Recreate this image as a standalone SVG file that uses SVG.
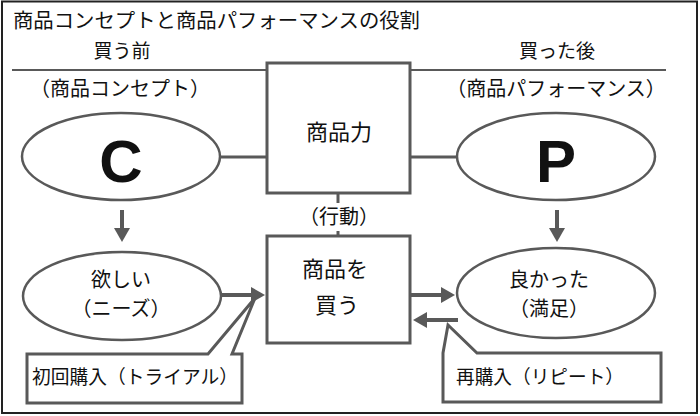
<svg xmlns="http://www.w3.org/2000/svg" width="700" height="416" viewBox="0 0 700 416">
<style>
text{font-family:"Noto Sans CJK JP","Noto Sans",sans-serif;font-size:19px;fill:#111}
.c{text-anchor:middle}
.l{font-size:22px}
.m{font-size:20px}
.shape{fill:#fff;stroke:#595959;stroke-width:3}
.ell{fill:#fff;stroke:#595959;stroke-width:2.5}
.line{stroke:#595959;stroke-width:3;fill:none}
.thin{stroke:#595959;stroke-width:2;fill:none}
.arr{stroke:#595959;stroke-width:4;fill:none;marker-end:url(#ah)}
.big{font-family:"Liberation Sans",Arial,sans-serif;font-weight:bold;font-size:60px;text-anchor:middle}
</style>
<defs>
<marker id="ah" markerUnits="userSpaceOnUse" markerWidth="14" markerHeight="16" refX="7" refY="8" orient="auto" viewBox="0 0 14 16">
<path d="M0,0 L14,8 L0,16 z" fill="#595959"/>
</marker>
</defs>
<rect x="2" y="1.5" width="695" height="411.5" fill="#fff" stroke="#222" stroke-width="2"/>
<text x="13" y="28" textLength="407" lengthAdjust="spacingAndGlyphs" style="font-size:20px">商品コンセプトと商品パフォーマンスの役割</text>
<text class="c" x="122" y="58">買う前</text>
<text class="c" x="557" y="58">買った後</text>
<text class="c m" x="120" y="96">（商品コンセプト）</text>
<text class="c m" x="556" y="96">（商品パフォーマンス）</text>

<g id="connectors">
<line class="thin" x1="12" y1="70" x2="267" y2="70"/>
<line class="thin" x1="410" y1="70" x2="666" y2="70"/>
<line class="line" x1="220" y1="157" x2="267" y2="157"/>
<line class="line" x1="410" y1="157" x2="457" y2="157"/>
<line class="line" x1="338" y1="193" x2="338" y2="236"/>
<line class="arr" x1="122" y1="210" x2="122" y2="235"/>
<line class="arr" x1="557" y1="210" x2="557" y2="235"/>
<line class="arr" x1="222" y1="295" x2="258" y2="295"/>
<line class="arr" x1="411" y1="295" x2="448" y2="295"/>
<line class="arr" x1="458" y1="320" x2="420" y2="320"/>
</g>

<g id="box-power">
<rect class="shape" x="267" y="63" width="143" height="130"/>
<text class="c l" x="339" y="140">商品力</text>
</g>

<g id="label-action">
<rect x="303" y="203" width="72" height="28" fill="#fff"/>
<text class="c m" x="339" y="224">（行動）</text>
</g>

<g id="ellipse-c">
<ellipse class="ell" cx="121" cy="156.5" rx="99" ry="43.5"/>
<text class="big" x="121" y="182">C</text>
</g>

<g id="ellipse-p">
<ellipse class="ell" cx="556" cy="156.5" rx="99" ry="43.5"/>
<text class="big" x="556" y="182">P</text>
</g>

<g id="box-buy">
<rect class="shape" x="267" y="236" width="143" height="107"/>
<text class="c l" x="335" y="277">商品を</text>
<text class="c l" x="337" y="313">買う</text>
</g>

<g id="ellipse-want">
<ellipse class="ell" cx="122" cy="296" rx="99" ry="44"/>
<text class="c m" x="121" y="287">欲しい</text>
<text class="c m" x="121" y="316">（ニーズ）</text>
</g>

<g id="ellipse-good">
<ellipse class="ell" cx="556" cy="293" rx="99" ry="45"/>
<text class="c m" x="549" y="287">良かった</text>
<text class="c m" x="549" y="316">（満足）</text>
</g>

<g id="callout-trial">
<path class="shape" d="M27,354 L208,354 L255,298 L232,354 L242,354 L242,403 L27,403 Z"/>
<text x="32" y="384" textLength="206" lengthAdjust="spacingAndGlyphs">初回購入（トライアル）</text>
</g>

<g id="callout-repeat">
<path class="shape" d="M443,402 L443,353 L448,325 L477,353 L661,353 L661,402 Z"/>
<text x="456" y="384" textLength="168" lengthAdjust="spacingAndGlyphs">再購入（リピート）</text>
</g>
</svg>
